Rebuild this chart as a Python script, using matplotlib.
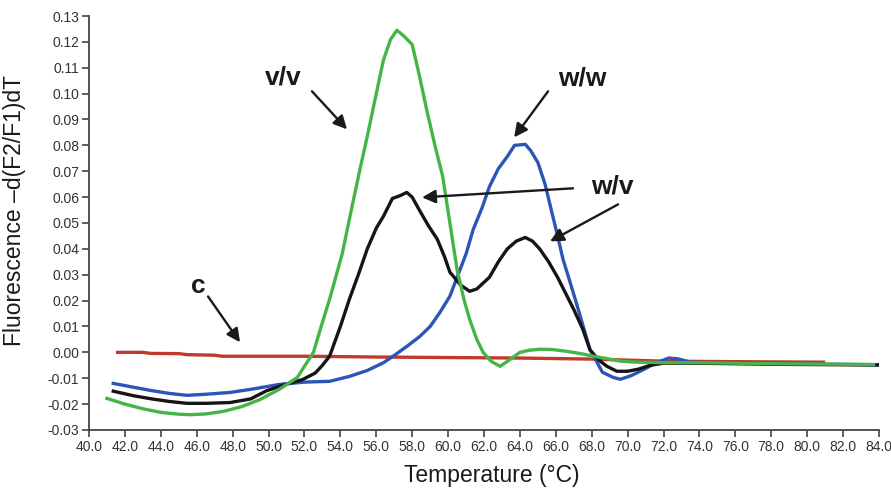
import matplotlib
matplotlib.use("Agg")
import matplotlib.pyplot as plt

plt.rcParams['font.family'] = ['Liberation Sans', 'DejaVu Sans']

# ---- data ----
vv_temp = [41.0, 42.0, 43.0, 44.0, 45.0, 45.6, 46.5, 47.5, 48.5, 49.5, 50.6, 51.6, 52.5,
           53.0, 53.4, 54.1, 54.7, 55.1, 55.5, 56.0, 56.4, 56.8, 57.15, 57.5, 58.0, 58.4,
           58.8, 59.3, 59.7, 60.1, 60.5, 60.9, 61.2, 61.6, 61.95, 62.4, 62.9, 63.4, 64.0,
           64.5, 65.1, 65.8, 66.6, 67.4, 68.1, 68.9, 69.6, 70.5, 72.0, 74.0, 76.0, 78.0,
           80.0, 82.0, 83.7]
vv_vals = [-0.0178, -0.0200, -0.0218, -0.0232, -0.0239, -0.0241, -0.0238, -0.0228, -0.0210,
           -0.0183, -0.0143, -0.0097, 0.0000, 0.0116, 0.0205, 0.0380, 0.0580, 0.0710,
           0.0835, 0.1000, 0.1130, 0.1210, 0.1245, 0.1225, 0.1190, 0.1070, 0.0940, 0.0790,
           0.0680, 0.0500, 0.0320, 0.0200, 0.0128, 0.0050, 0.0000, -0.0035, -0.0054,
           -0.0030, 0.0000, 0.0008, 0.0012, 0.0011, 0.0004, -0.0005, -0.0015, -0.0025,
           -0.0034, -0.0038, -0.0040, -0.0040, -0.0042, -0.0044, -0.0045, -0.0046, -0.0047]

wv_temp = [41.35, 42.5, 43.5, 44.5, 45.45, 46.5, 47.85, 49.0, 49.9, 50.9, 51.9, 52.6, 53.0,
           53.4, 54.0, 54.5, 55.0, 55.5, 56.0, 56.4, 56.9, 57.3, 57.7, 58.0, 58.4, 58.9,
           59.4, 59.8, 60.1, 60.7, 61.2, 61.6, 62.3, 62.8, 63.3, 63.8, 64.3, 64.7, 65.1,
           65.6, 66.1, 67.0, 67.5, 67.9, 68.4, 68.85, 69.4, 70.0, 70.6, 71.25, 72.0, 74.0,
           76.0, 78.0, 80.0, 82.0, 84.0]
wv_vals = [-0.0150, -0.0168, -0.0180, -0.0190, -0.0197, -0.0197, -0.0194, -0.0180, -0.0148,
           -0.0125, -0.0105, -0.0080, -0.0050, -0.0015, 0.0100, 0.0205, 0.0300, 0.0400,
           0.0480, 0.0526, 0.0595, 0.0605, 0.0618, 0.0600, 0.0550, 0.0490, 0.0437, 0.0370,
           0.0310, 0.0260, 0.0236, 0.0245, 0.0290, 0.0350, 0.0400, 0.0430, 0.0444, 0.0430,
           0.0400, 0.0350, 0.0290, 0.0166, 0.0090, 0.0010, -0.0030, -0.0054, -0.0073,
           -0.0073, -0.0065, -0.0050, -0.0042, -0.0042, -0.0044, -0.0046, -0.0047, -0.0048,
           -0.0049]

ww_temp = [41.35, 42.5, 43.5, 44.5, 45.45, 46.5, 47.85, 49.0, 50.6, 52.0, 53.4, 54.5, 55.5,
           56.4, 57.0, 57.7, 58.4, 59.0, 59.55, 60.1, 60.5, 61.0, 61.4, 61.9, 62.3, 62.8,
           63.3, 63.7, 64.3, 64.6, 65.0, 65.4, 65.7, 66.1, 66.4, 66.8, 67.2, 67.9, 68.6,
           69.2, 69.6, 70.2, 70.9, 71.6, 72.3, 72.8, 73.5, 75.0, 77.0, 79.0, 81.0, 83.0, 84.0]
ww_vals = [-0.0120, -0.0135, -0.0148, -0.0159, -0.0166, -0.0162, -0.0155, -0.0143, -0.0124,
           -0.0115, -0.0112, -0.0093, -0.0070, -0.0040, -0.0012, 0.0023, 0.0060, 0.0100,
           0.0155, 0.0217, 0.0290, 0.0380, 0.0475, 0.0560, 0.0640, 0.0710, 0.0757, 0.0800,
           0.0804, 0.0780, 0.0734, 0.0650, 0.0564, 0.0450, 0.0360, 0.0270, 0.0178, 0.0012,
           -0.0077, -0.0097, -0.0104, -0.0090, -0.0066, -0.0040, -0.0022, -0.0025, -0.0038,
           -0.0040, -0.0042, -0.0045, -0.0046, -0.0047, -0.0048]

c_temp = [41.5, 43.0, 43.4, 45.0, 45.5, 47.0, 47.4, 52.0, 56.0, 60.0, 64.0, 68.0, 72.0, 76.0, 81.0]
c_vals = [0.0000, 0.0000, -0.0004, -0.0005, -0.0009, -0.0011, -0.0015, -0.0015, -0.0018,
          -0.0020, -0.0022, -0.0026, -0.0034, -0.0036, -0.0038]

x_ticks = [40 + 2 * i for i in range(23)]
x_tick_labels = ["%.1f" % v for v in x_ticks]
y_ticks = [round(-0.03 + 0.01 * i, 2) for i in range(17)]
y_tick_labels = ["%.2f" % v if v >= 0 else "-%.2f" % abs(v) for v in y_ticks]

# ---- figure ----
fig = plt.figure(figsize=(8.91, 4.88), dpi=100)
ax = fig.add_axes([0.0999, 0.1189, 0.8866, 0.8483])

lw = 2.4
ax.plot(c_temp, c_vals, color='#c0392b', lw=lw, solid_capstyle='butt')
ax.plot(ww_temp, ww_vals, color='#2c55b8', lw=lw)
ax.plot(wv_temp, wv_vals, color='#151515', lw=lw)
ax.plot(vv_temp, vv_vals, color='#45b548', lw=lw)

ax.set_xlim(40, 84)
ax.set_ylim(-0.03, 0.13)
ax.set_xticks(x_ticks)
ax.set_xticklabels(x_tick_labels)
ax.set_yticks(y_ticks)
ax.set_yticklabels(y_tick_labels)

for s in ['top', 'right']:
    ax.spines[s].set_visible(False)
for s in ['left', 'bottom']:
    ax.spines[s].set_color('#444444')
    ax.spines[s].set_linewidth(1.3)

ax.tick_params(axis='both', direction='out', length=5, width=1.2, color='#444444',
               labelcolor='#333333', labelsize=10, pad=2)

ax.set_xlabel("Temperature (°C)", fontsize=16.5, color='#1a1a1a')
ax.set_ylabel("Fluorescence \u2013d(F2/F1)dT", fontsize=16.5, color='#1a1a1a')
ax.xaxis.set_label_coords(0.51, -0.083)
ax.yaxis.set_label_coords(-0.08, 0.529)

# ---- annotations ----
aprops = dict(arrowstyle='-|>', color='#1a1a1a', lw=1.7, mutation_scale=20,
              shrinkA=0, shrinkB=0)
tkw = dict(fontsize=19, fontweight='bold', color='#1a1a1a', ha='center', va='center')

ax.text(50.8, 0.1063, "v/v", **tkw)
ax.annotate("", xy=(54.37, 0.0862), xytext=(52.42, 0.1009), arrowprops=aprops)

ax.text(67.46, 0.1059, "w/w", **tkw)
ax.annotate("", xy=(63.68, 0.0831), xytext=(65.57, 0.1009), arrowprops=aprops)

ax.text(69.14, 0.0642, "w/v", **tkw)
ax.annotate("", xy=(58.55, 0.0599), xytext=(66.96, 0.0634), arrowprops=aprops)
ax.annotate("", xy=(65.68, 0.0429), xytext=(69.47, 0.0572), arrowprops=aprops)

ax.text(46.07, 0.0255, "c", **tkw)
ax.annotate("", xy=(48.41, 0.0039), xytext=(46.63, 0.0216), arrowprops=aprops)

fig.savefig("out.png", dpi=100)
